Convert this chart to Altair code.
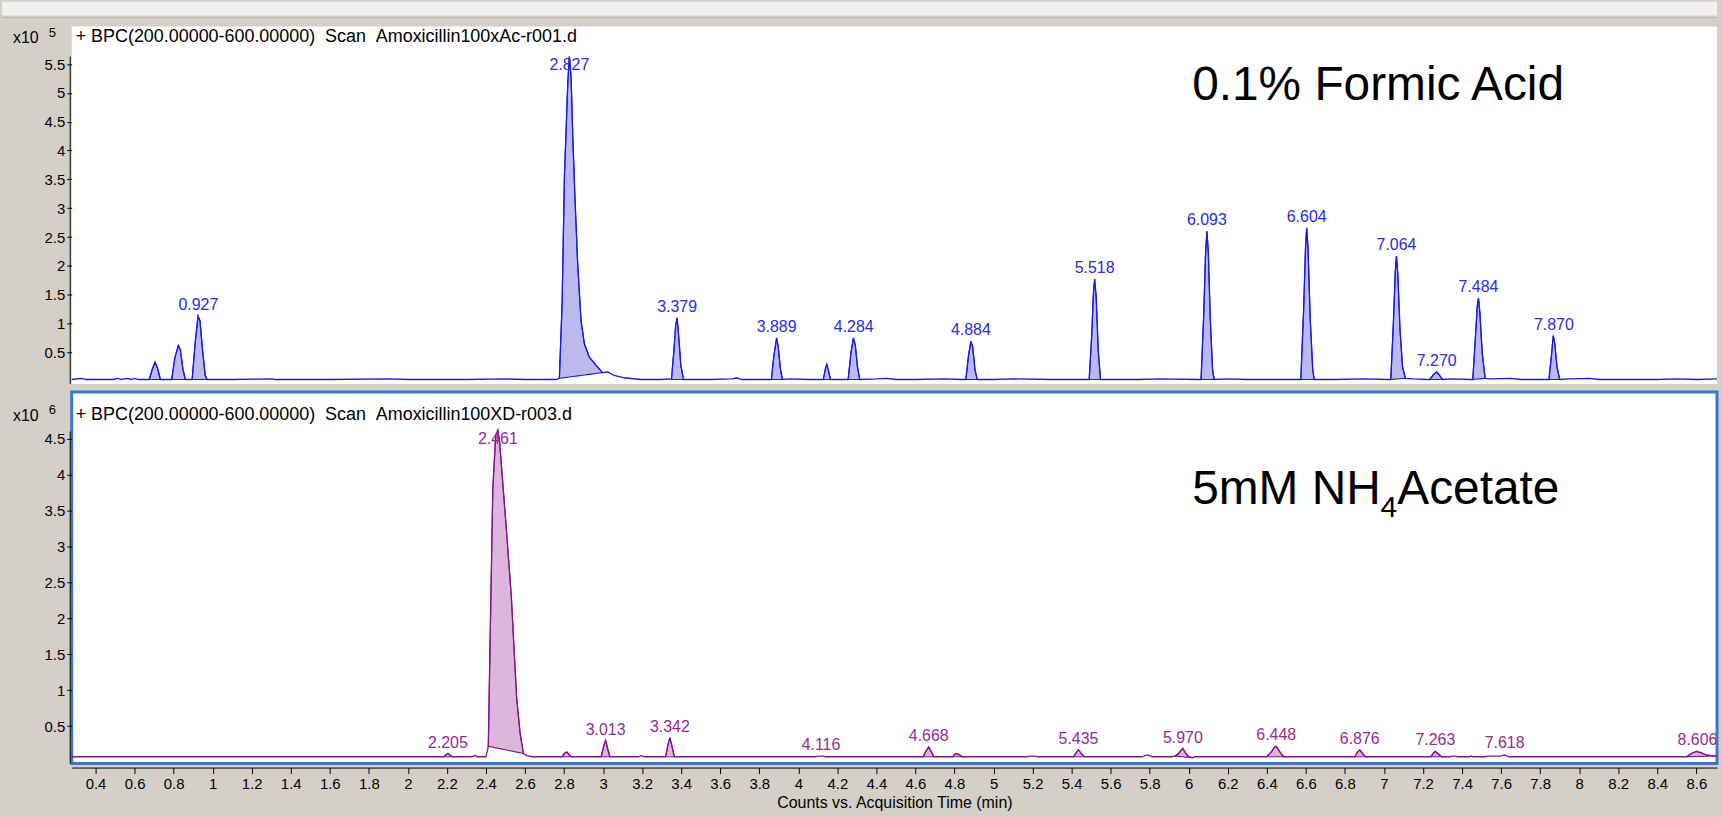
import altair as alt
import pandas as pd

FONT = "Liberation Sans, Arial, sans-serif"
BG = "#d4d0c8"
X_MIN, X_MAX = 0.278, 8.706
W, H1, H2 = 1652, 359, 373
GAP = 5

X_TICKS = [0.4, 0.6, 0.8, 1, 1.2, 1.4, 1.6, 1.8, 2, 2.2, 2.4, 2.6, 2.8, 3, 3.2, 3.4, 3.6, 3.8,
           4, 4.2, 4.4, 4.6, 4.8, 5, 5.2, 5.4, 5.6, 5.8, 6, 6.2, 6.4, 6.6, 6.8, 7, 7.2, 7.4,
           7.6, 7.8, 8, 8.2, 8.4, 8.6]
TOP_Y_TICKS = [0.5, 1, 1.5, 2, 2.5, 3, 3.5, 4, 4.5, 5, 5.5]
BOT_Y_TICKS = [0.5, 1, 1.5, 2, 2.5, 3, 3.5, 4, 4.5]

# ---- Top trace: 0.1% formic acid (counts x10^5) ----
top_baseline = [(0.278, 0.03), (0.33, 0.05), (0.35, 0.03), (0.49, 0.03), (0.515, 0.05), (0.53, 0.03),
                (0.56, 0.05), (0.585, 0.03), (0.60, 0.05), (0.62, 0.03), (0.66, 0.03), (0.76, 0.03),
                (0.885, 0.03), (1.0, 0.03), (1.1, 0.03), (1.3, 0.04), (1.32, 0.03), (1.6, 0.03),
                (1.9, 0.04), (2.0, 0.03), (2.3, 0.03), (2.5, 0.04), (2.6, 0.03), (2.76, 0.03),
                (3.023, 0.16), (3.057, 0.10), (3.108, 0.06), (3.193, 0.03), (3.30, 0.03), (3.34, 0.04),
                (3.45, 0.03), (3.55, 0.03), (3.66, 0.04), (3.685, 0.06), (3.71, 0.03), (3.80, 0.03),
                (3.85, 0.03), (3.95, 0.04), (4.05, 0.03), (4.12, 0.03), (4.22, 0.03), (4.40, 0.04),
                (4.45, 0.05), (4.50, 0.03), (4.60, 0.03), (4.75, 0.04), (4.84, 0.03), (5.00, 0.03),
                (5.10, 0.04), (5.30, 0.03), (5.45, 0.03), (5.60, 0.03), (5.75, 0.03), (5.85, 0.04),
                (6.05, 0.03), (6.20, 0.04), (6.30, 0.03), (6.45, 0.03), (6.56, 0.03), (6.75, 0.03),
                (6.90, 0.04), (7.02, 0.03), (7.15, 0.04), (7.22, 0.03), (7.35, 0.04), (7.44, 0.03),
                (7.55, 0.04), (7.65, 0.05), (7.70, 0.03), (7.83, 0.03), (7.95, 0.04), (8.05, 0.05),
                (8.10, 0.03), (8.40, 0.03), (8.50, 0.04), (8.60, 0.03), (8.706, 0.04)]

top_peaks = [
    [(0.675, 0.03), (0.692, 0.22), (0.705, 0.33), (0.718, 0.22), (0.732, 0.03)],
    [(0.790, 0.03), (0.806, 0.40), (0.824, 0.62), (0.834, 0.55), (0.848, 0.20), (0.860, 0.03)],
    [(0.895, 0.03), (0.910, 0.65), (0.925, 1.13), (0.935, 1.05), (0.948, 0.55), (0.962, 0.10), (0.972, 0.03)],
    [(2.776, 0.05), (2.790, 1.34), (2.802, 3.57), (2.810, 4.31), (2.819, 5.17), (2.827, 5.63),
     (2.836, 5.29), (2.844, 4.31), (2.856, 3.17), (2.870, 2.02), (2.887, 1.05), (2.904, 0.65),
     (2.929, 0.42), (2.963, 0.28), (2.997, 0.15)],
    [(3.350, 0.03), (3.362, 0.50), (3.372, 0.98), (3.379, 1.10), (3.388, 0.75), (3.398, 0.28), (3.412, 0.03)],
    [(3.862, 0.03), (3.875, 0.45), (3.889, 0.75), (3.897, 0.60), (3.907, 0.25), (3.918, 0.03)],
    [(4.128, 0.03), (4.139, 0.22), (4.146, 0.29), (4.153, 0.20), (4.165, 0.03)],
    [(4.255, 0.03), (4.270, 0.50), (4.282, 0.75), (4.292, 0.62), (4.303, 0.25), (4.315, 0.03)],
    [(4.858, 0.03), (4.872, 0.45), (4.884, 0.69), (4.893, 0.60), (4.905, 0.20), (4.916, 0.03)],
    [(5.490, 0.03), (5.503, 0.80), (5.512, 1.55), (5.518, 1.77), (5.526, 1.45), (5.536, 0.55), (5.548, 0.03)],
    [(6.063, 0.03), (6.076, 1.10), (6.086, 2.20), (6.093, 2.60), (6.100, 2.25), (6.110, 1.10), (6.122, 0.20), (6.130, 0.03)],
    [(6.574, 0.03), (6.588, 1.20), (6.598, 2.30), (6.604, 2.66), (6.611, 2.30), (6.622, 1.10), (6.635, 0.20), (6.643, 0.03)],
    [(7.035, 0.03), (7.048, 1.00), (7.058, 1.90), (7.064, 2.17), (7.071, 1.85), (7.082, 0.90), (7.095, 0.25), (7.110, 0.05)],
    [(7.235, 0.03), (7.255, 0.12), (7.270, 0.16), (7.285, 0.10), (7.300, 0.03)],
    [(7.455, 0.03), (7.469, 0.80), (7.478, 1.30), (7.484, 1.44), (7.491, 1.20), (7.503, 0.50), (7.518, 0.05)],
    [(7.845, 0.03), (7.858, 0.45), (7.867, 0.79), (7.875, 0.65), (7.886, 0.25), (7.900, 0.03)],
]

top_label_t = [0.927, 2.827, 3.379, 3.889, 4.284, 4.884, 5.518, 6.093, 6.604, 7.064, 7.270, 7.484, 7.870]
top_label_h = [1.13, 5.63, 1.10, 0.75, 0.75, 0.69, 1.77, 2.60, 2.66, 2.17, 0.16, 1.44, 0.79]

# ---- Bottom trace: 5mM NH4 acetate (counts x10^6) ----
bot_baseline = [(0.278, 0.075), (1.0, 0.075), (2.0, 0.075), (2.17, 0.075), (2.33, 0.075), (2.345, 0.095),
                (2.355, 0.075), (2.40, 0.075), (2.61, 0.09), (2.64, 0.075), (2.78, 0.075), (2.98, 0.075),
                (3.18, 0.075), (3.195, 0.09), (3.21, 0.075), (3.31, 0.075), (3.60, 0.075), (4.09, 0.075),
                (4.10, 0.085), (4.13, 0.085), (4.14, 0.075), (4.63, 0.075), (4.705, 0.075), (4.78, 0.075),
                (4.85, 0.075), (5.17, 0.075), (5.18, 0.085), (5.215, 0.085), (5.225, 0.075), (5.40, 0.075),
                (5.475, 0.075), (5.76, 0.075), (5.785, 0.10), (5.80, 0.09), (5.815, 0.075), (5.91, 0.075),
                (6.03, 0.075), (6.39, 0.075), (6.50, 0.075), (6.84, 0.075), (6.915, 0.075), (7.23, 0.075),
                (7.305, 0.075), (7.34, 0.075), (7.345, 0.085), (7.37, 0.085), (7.375, 0.075), (7.44, 0.075),
                (7.445, 0.085), (7.455, 0.075), (7.52, 0.075), (7.53, 0.085), (7.60, 0.085), (7.615, 0.10),
                (7.625, 0.095), (7.64, 0.075), (8.0, 0.075), (8.54, 0.075), (8.706, 0.085)]

bot_peaks = [
    [(2.185, 0.075), (2.198, 0.11), (2.205, 0.12), (2.215, 0.10), (2.228, 0.075)],
    [(2.412, 0.22), (2.420, 1.5), (2.435, 3.8), (2.450, 4.55), (2.461, 4.62), (2.470, 4.45),
     (2.500, 3.4), (2.530, 2.3), (2.557, 0.9), (2.575, 0.4), (2.592, 0.12)],
    [(2.79, 0.075), (2.805, 0.13), (2.815, 0.14), (2.83, 0.09), (2.84, 0.075)],
    [(2.99, 0.075), (3.003, 0.22), (3.013, 0.30), (3.022, 0.20), (3.035, 0.075)],
    [(3.32, 0.075), (3.333, 0.25), (3.342, 0.34), (3.351, 0.24), (3.365, 0.075)],
    [(4.64, 0.075), (4.655, 0.16), (4.668, 0.21), (4.68, 0.15), (4.695, 0.075)],
    [(4.79, 0.075), (4.805, 0.12), (4.82, 0.11), (4.84, 0.075)],
    [(5.41, 0.075), (5.425, 0.14), (5.435, 0.17), (5.45, 0.12), (5.465, 0.075)],
    [(5.93, 0.085), (5.948, 0.12), (5.962, 0.17), (5.970, 0.19), (5.985, 0.12), (6.00, 0.075), (6.02, 0.06)],
    [(6.40, 0.075), (6.425, 0.15), (6.440, 0.21), (6.448, 0.22), (6.465, 0.15), (6.485, 0.075)],
    [(6.85, 0.075), (6.865, 0.14), (6.876, 0.17), (6.89, 0.12), (6.905, 0.075)],
    [(7.24, 0.075), (7.255, 0.13), (7.263, 0.15), (7.28, 0.11), (7.295, 0.075)],
    [(8.55, 0.075), (8.575, 0.12), (8.600, 0.15), (8.625, 0.13), (8.65, 0.10), (8.70, 0.085)],
]

bot_label_t = [2.205, 2.461, 3.013, 3.342, 4.116, 4.668, 5.435, 5.970, 6.448, 6.876, 7.263, 7.618, 8.606]
bot_label_h = [0.12, 4.62, 0.30, 0.34, 0.09, 0.21, 0.17, 0.19, 0.22, 0.17, 0.15, 0.11, 0.15]

TOP_TITLE = "+ BPC(200.00000-600.00000)\u00a0\u00a0Scan\u00a0\u00a0Amoxicillin100xAc-r001.d"
BOT_TITLE = "+ BPC(200.00000-600.00000)\u00a0\u00a0Scan\u00a0\u00a0Amoxicillin100XD-r003.d"


def build(base_pts, peaks):
    rows = [dict(t=t, v=v) for t, v in base_pts]
    area_rows = []
    for i, pk in enumerate(peaks):
        t0, b0 = pk[0]
        t1, b1 = pk[-1]
        for t, v in pk:
            rows.append(dict(t=t, v=v))
            f = (t - t0) / (t1 - t0)
            area_rows.append(dict(t=t, v=v, b=b0 + (b1 - b0) * f, pk=i))
    return pd.DataFrame(rows).sort_values("t"), pd.DataFrame(area_rows)


ONE = pd.DataFrame({"a": [0]})


def txt(s, x, y, size, color="black", align="left", baseline="middle"):
    return alt.Chart(ONE).mark_text(text=s, font=FONT, fontSize=size, color=color,
                                    align=align, baseline=baseline).encode(
        x=alt.value(x), y=alt.value(y))


def panel(base_pts, peaks, lab_t, lab_h, cap, ydom, yticks, axis_top, H,
          line_col, fill_col, lab_col, title, expo, title_y, show_x):
    line_df, area_df = build(base_pts, peaks)
    lab_df = pd.DataFrame({"t": lab_t, "h": lab_h})
    lab_df["ly"] = lab_df["h"].clip(upper=cap)
    lab_df["lab"] = lab_df["t"].map(lambda v: f"{v:.3f}")

    if show_x:
        xaxis = alt.Axis(values=X_TICKS, format="~g", tickSize=6, offset=4, labelPadding=3,
                         title="Counts vs. Acquisition Time (min)", titlePadding=3,
                         labelFlush=False, labelOverlap=False, grid=False)
    else:
        xaxis = None
    xs = alt.Scale(domain=[X_MIN, X_MAX], nice=False, zero=False)
    ys = alt.Scale(domain=ydom, nice=False, zero=False)
    yaxis = alt.Axis(values=yticks, format="~g", domain=False, tickSize=5,
                     labelPadding=2, title=None, grid=False,
                     labelOverlap=False, labelFlush=False)
    x = alt.X("t:Q", scale=xs, axis=xaxis)
    y = alt.Y("v:Q", scale=ys, axis=yaxis)

    area = alt.Chart(area_df).mark_area(color=fill_col, stroke=line_col, strokeWidth=1.1,
                                        opacity=1).encode(x=x, y=y, y2="b:Q", detail="pk:N")
    line = alt.Chart(line_df).mark_line(color=line_col, strokeWidth=1.3).encode(x=x, y=y)
    labels = alt.Chart(lab_df).mark_text(font=FONT, fontSize=16, color=lab_col, baseline="bottom",
                                         dy=-3).encode(
        x=alt.X("t:Q", scale=xs, axis=xaxis), y=alt.Y("ly:Q", scale=ys, axis=yaxis), text="lab:N")
    yline = alt.Chart(ONE).mark_rule(color="black", strokeWidth=1).encode(
        x=alt.value(-1.5), y=alt.datum(axis_top, axis=yaxis), y2=alt.value(H))

    layers = [area, line, labels, yline,
              txt(title, 4, title_y, 18),
              txt("x10", -59, title_y + 1, 16),
              txt(expo, -23, title_y - 5, 13)]
    return layers


top_layers = panel(top_baseline, top_peaks, top_label_t, top_label_h, 5.3, [-0.05, 6.15],
                   TOP_Y_TICKS, 5.63, H1, "#1a1ae0", "#babaef", "#2a2ae0", TOP_TITLE, "5", 11,
                   False)
top_layers += [
    alt.Chart(ONE).mark_rect(color="#f2f1ef").encode(
        x=alt.value(-70), x2=alt.value(W), y=alt.value(-25), y2=alt.value(-11)),
    alt.Chart(ONE).mark_rule(color="#b8b4ac", strokeWidth=1).encode(
        x=alt.value(-70), x2=alt.value(W), y=alt.value(-9)),
    txt("0.1% Formic Acid", 1125, 74, 48, baseline="alphabetic"),
]
top = alt.layer(*top_layers).properties(
    width=W, height=H1, view=alt.ViewBackground(fill="white", stroke=None))

bot_layers = panel(bot_baseline, bot_peaks, bot_label_t, bot_label_h, 4.35, [-0.02, 5.15],
                   BOT_Y_TICKS, 4.6, H2, "#86128a", "#dcb6dc", "#952a95", BOT_TITLE, "6", 23,
                   True)
bot_layers += [
    txt("5mM NH", 1125, 112, 48, baseline="alphabetic"),
    txt("4", 1314, 125, 30, baseline="alphabetic"),
    txt("Acetate", 1331, 112, 48, baseline="alphabetic"),
    alt.Chart(ONE).mark_rect(opacity=0).encode(
        x=alt.value(-70), x2=alt.value(W), y=alt.value(H2), y2=alt.value(817 - H1 - 25 - GAP)),
]
bot = alt.layer(*bot_layers).properties(
    width=W, height=H2, view=alt.ViewBackground(fill="white", stroke="#3a76c6", strokeWidth=3))

chart = alt.vconcat(top, bot, spacing=GAP).properties(
    padding=0, background=BG
).configure_axis(
    labelFont=FONT, labelFontSize=15, labelColor="black", tickColor="black", domainColor="black",
    titleFont=FONT, titleFontSize=16, titleFontWeight="normal", titleColor="black",
    labelOverlap=False
)

chart.save("out.html", embed_options={"renderer": "svg", "actions": False})
